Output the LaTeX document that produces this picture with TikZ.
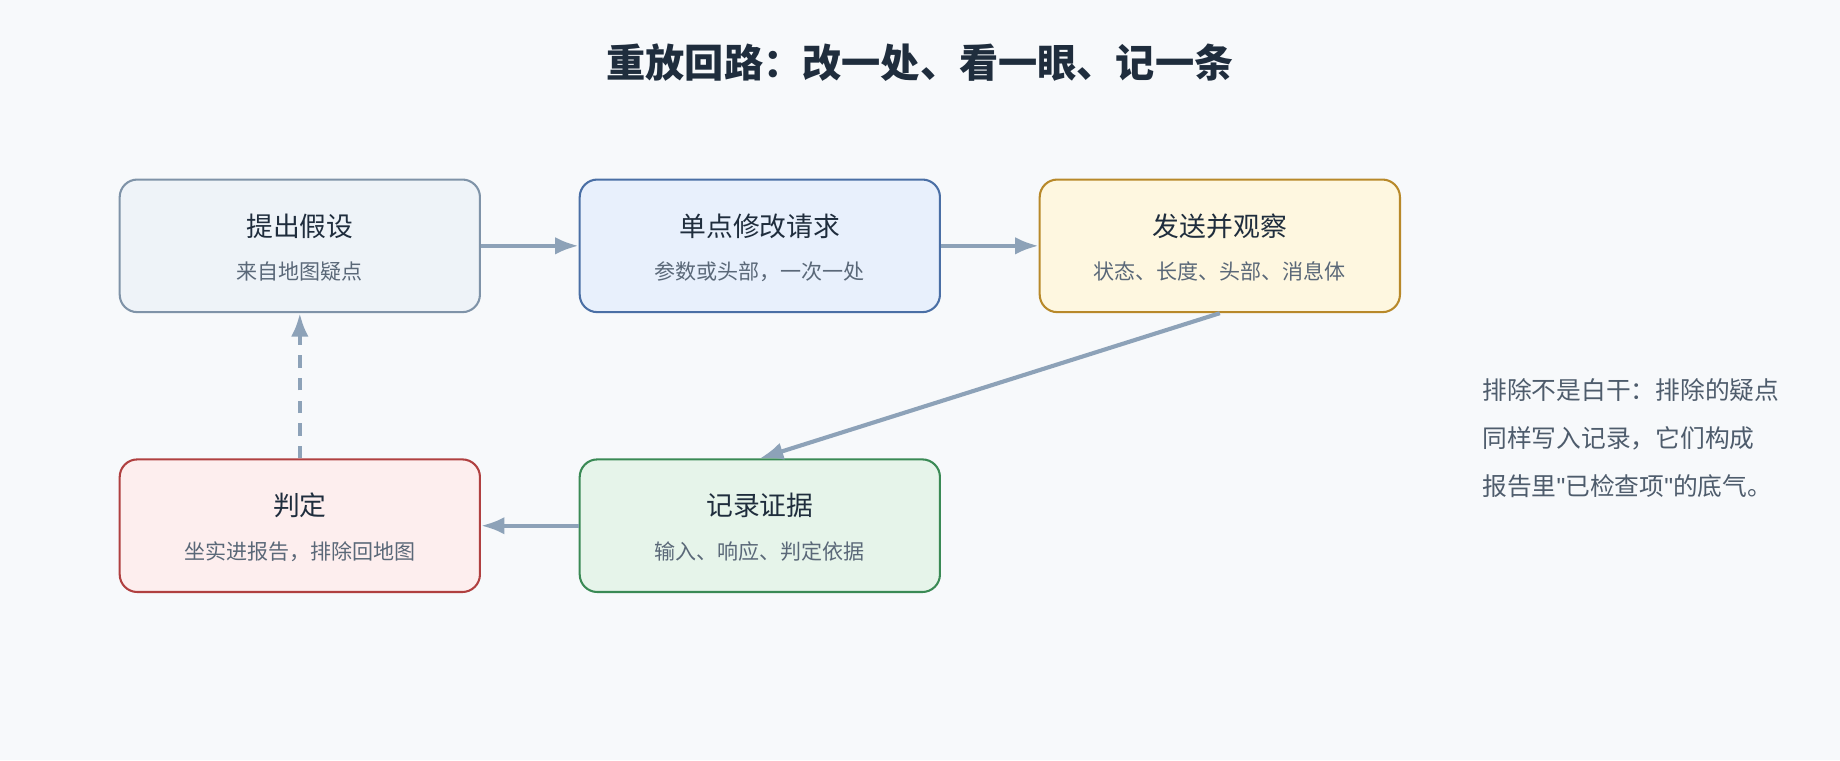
\documentclass[tikz,border=0pt]{standalone}
\usepackage{fontspec}
\setmainfont{Noto Sans CJK SC}
\newfontfamily\quotefont{Liberation Sans}
\usetikzlibrary{arrows.meta}
\tikzset{>={Latex[length=4mm,width=3mm]}}
\definecolor{bg}{HTML}{F7F9FB}
\definecolor{ink}{HTML}{1F2D3D}
\definecolor{sub}{HTML}{5A6878}
\definecolor{arr}{HTML}{8DA2B8}
\newcommand{\dq}{{\quotefont\symbol{34}}}
\begin{document}
\begin{tikzpicture}[x=0.02cm,y=-0.02cm,
  box/.style = {draw, rounded corners=15*0.02cm, line width=1pt, minimum width=307*0.02cm, minimum height=113*0.02cm},
  flow/.style = {->, draw=arr, color=arr, line width=2pt}]
\fill[bg] (0,0) rectangle (1568,648);
\node[text=ink, font=\bfseries\fontsize{19}{23}\selectfont] (title) at (784,53) {重放回路：改一处、看一眼、记一条};
% boxes
\node[box, fill={rgb,255:red,238;green,243;blue,248}, draw={rgb,255:red,127;green,147;blue,168}] (hyp) at (255.5,209.5) {};
\node[box, fill={rgb,255:red,232;green,240;blue,252}, draw={rgb,255:red,74;green,111;blue,165}] (mod) at (647.5,209.5) {};
\node[box, fill={rgb,255:red,254;green,247;blue,224}, draw={rgb,255:red,184;green,137;blue,42}] (send) at (1039.5,209.5) {};
\node[box, fill={rgb,255:red,230;green,244;blue,234}, draw={rgb,255:red,58;green,138;blue,85}] (rec) at (647.5,448) {};
\node[box, fill={rgb,255:red,253;green,238;blue,238}, draw={rgb,255:red,176;green,64;blue,64}] (judge) at (255.5,448) {};
% labels
\foreach \n/\t/\s in {hyp/提出假设/来自地图疑点, mod/单点修改请求/参数或头部，一次一处, send/发送并观察/状态、长度、头部、消息体, rec/记录证据/输入、响应、判定依据, judge/判定/坐实进报告，排除回地图} {
  \node[text=ink, font=\fontsize{13}{15}\selectfont] at ([yshift=0.34cm]\n.center) {\t};
  \node[text=sub, font=\fontsize{10.2}{12}\selectfont] at ([yshift=-0.44cm]\n.center) {\s};
}
% connectors
\draw[flow] (hyp) -- (mod);
\draw[flow] (mod) -- (send);
\draw[flow] (send.south) -- (rec.north);
\draw[flow] (rec) -- (judge);
\draw[flow, dashed, dash pattern=on 6pt off 5pt] (judge) -- (hyp);
% note
\node[text=sub!80!ink, font=\fontsize{12}{23.3}\selectfont, align=left, anchor=north west] (note) at (1257,316) {排除不是白干：排除的疑点\\同样写入记录，它们构成\\报告里\dq 已检查项\dq 的底气。};
\end{tikzpicture}
\end{document}
